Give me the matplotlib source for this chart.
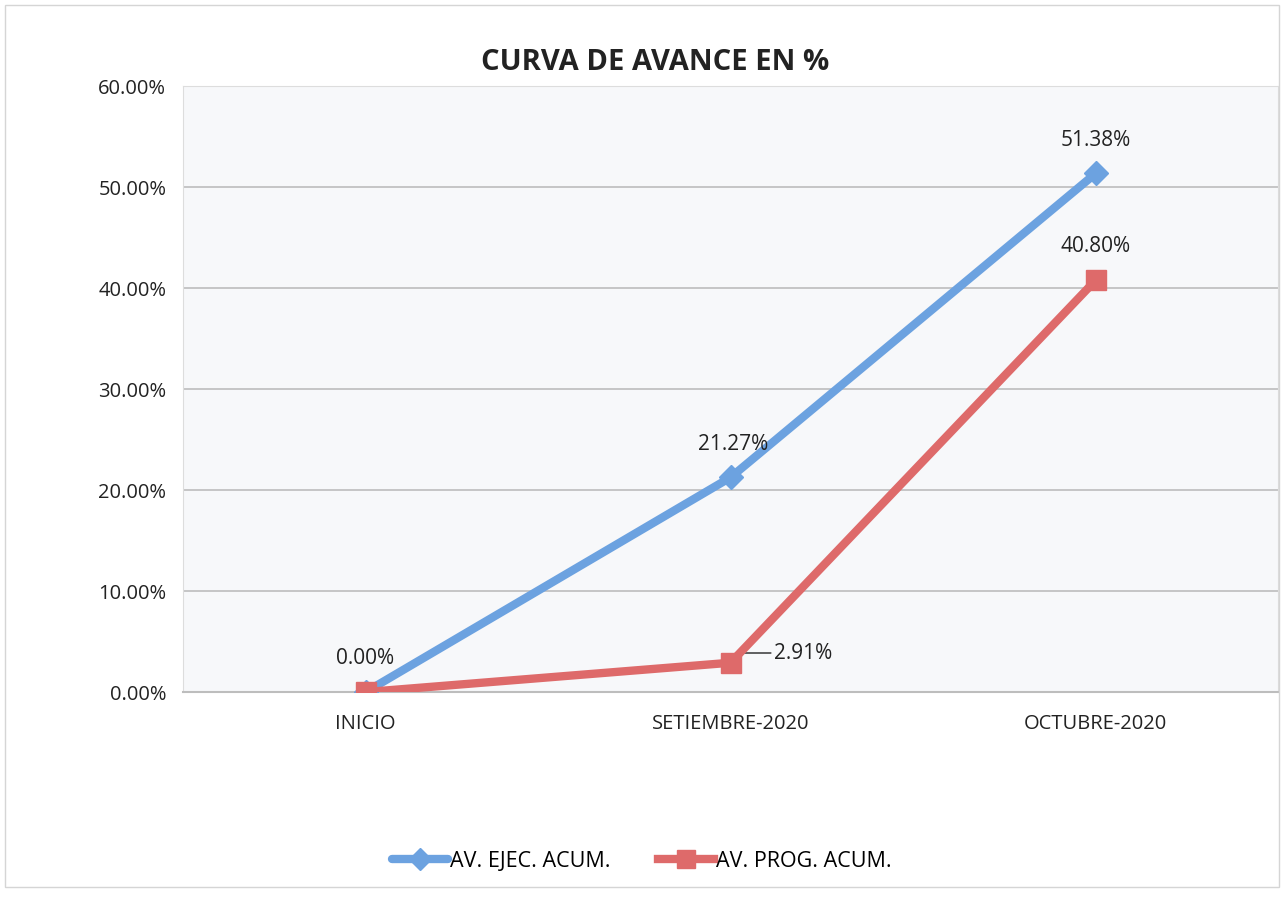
import matplotlib
matplotlib.use("Agg")
import matplotlib.pyplot as plt
from matplotlib.ticker import FuncFormatter
from matplotlib.patches import Rectangle

plt.rcParams['font.family'] = ['Open Sans', 'DejaVu Sans']

categories = ["INICIO", "SETIEMBRE-2020", "OCTUBRE-2020"]
ejec = [0.00, 21.27, 51.38]
prog = [0.00, 2.91, 40.80]
yticks = [0, 10, 20, 30, 40, 50, 60]

blue = "#6CA2E0"
red = "#DE6A6A"

fig = plt.figure(figsize=(12.84, 9.0), dpi=100)
fig.patch.set_facecolor("white")
fig.patches.append(Rectangle((0.004, 0.014), 0.992, 0.98, transform=fig.transFigure,
                             fill=False, edgecolor="#D5D5D5", lw=1))
ax = fig.add_axes([0.1425, 0.231, 0.853, 0.673])
ax.set_facecolor("#F7F8FA")

x = [0.5, 1.5, 2.5]
ax.plot(x, ejec, color=blue, lw=6, marker="D", ms=12, mfc=blue, mec=blue,
        label="AV. EJEC. ACUM.", zorder=3, solid_capstyle="round")
ax.plot(x, prog, color=red, lw=6, marker="s", ms=15, mfc=red, mec=red,
        label="AV. PROG. ACUM.", zorder=4)

ax.set_xlim(0, 3)
ax.set_ylim(0, 60)
ax.set_yticks(yticks)
ax.yaxis.set_major_formatter(FuncFormatter(lambda v, p: f"{v:.2f}%"))
ax.set_xticks(x)
ax.set_xticklabels(categories)
ax.tick_params(axis="both", length=0, labelsize=14.5, colors="#222222")
ax.tick_params(axis="x", pad=16)
ax.tick_params(axis="y", pad=12)
ax.grid(axis="y", color="#BDBDBD", lw=1.2)
ax.set_axisbelow(True)
for s in ["top", "right", "left"]:
    ax.spines[s].set_color("#DDDDDD")
ax.spines["bottom"].set_color("#BDBDBD")
ax.spines["bottom"].set_linewidth(1.5)

lab = dict(fontsize=15, color="#222222", ha="center")
ax.annotate(f"{ejec[0]:.2f}%", (x[0], ejec[0]), xytext=(0, 20), textcoords="offset points", **lab)
ax.annotate(f"{ejec[1]:.2f}%", (x[1], ejec[1]), xytext=(2, 20), textcoords="offset points", **lab)
ax.annotate(f"{ejec[2]:.2f}%", (x[2], ejec[2]), xytext=(0, 20), textcoords="offset points", **lab)
ax.annotate(f"{prog[2]:.2f}%", (x[2], prog[2]), xytext=(0, 20), textcoords="offset points", **lab)
ax.annotate(f"{prog[1]:.2f}%", (x[1], prog[1]), xytext=(52, 7), textcoords="offset points",
            fontsize=15, color="#222222", ha="center", va="center",
            arrowprops=dict(arrowstyle="-", color="#222222", lw=1,
                            connectionstyle="angle,angleA=0,angleB=40,rad=0",
                            shrinkA=0, shrinkB=0, relpos=(0, 0.5)))

fig.text(0.51, 0.931, "CURVA DE AVANCE EN %", ha="center", va="center",
         fontsize=21, fontweight="bold", color="#222222")

leg = fig.legend(loc="center", bbox_to_anchor=(0.5, 0.043), ncol=2, frameon=False,
                 fontsize=15.5, handlelength=2.6, handletextpad=0.1, columnspacing=2.2,
                 markerscale=0.9)

fig.savefig("out.png", dpi=100, facecolor="white")
